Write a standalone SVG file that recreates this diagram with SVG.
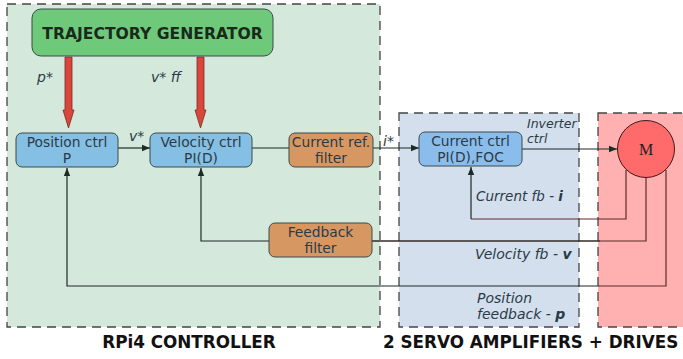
<svg xmlns="http://www.w3.org/2000/svg" width="683" height="359" viewBox="0 0 683 359">
<style>
.panel{stroke:#444;stroke-width:1.3;stroke-dasharray:9,6}
.box{stroke:#3a4a4a;stroke-width:1}
.blue{fill:#85bfe3}
.orange{fill:#d69763}
.t{font-family:"DejaVu Sans",Verdana,sans-serif;font-size:13.8px;fill:#2b3b46;text-anchor:middle}
.lbl{font-family:"DejaVu Sans",Verdana,sans-serif;font-size:13.5px;fill:#2b3b46;font-style:italic}
.s13{font-size:12.5px}
.s14{font-size:14px}
.title{font-family:"DejaVu Sans",Verdana,sans-serif;font-size:16.8px;font-weight:bold;fill:#111}
.tg{font-size:15.6px;fill:#1a2a1a}
.line{fill:none;stroke:#1e2a26;stroke-width:1.2}
.fbl{fill:none;stroke:#5e2a2a;stroke-width:1.2}
.big{fill:#d9473c;stroke:#7a2a20;stroke-width:0.8}
</style>
<defs>
<marker id="ah" viewBox="0 0 10 10" refX="10" refY="5" markerWidth="8" markerHeight="8" markerUnits="userSpaceOnUse" orient="auto">
<path d="M0,1 L10,5 L0,9 z" fill="#1e2a26"/>
</marker>
</defs>
<rect width="683" height="359" fill="#fff"/>
<g id="panel-rpi">
<rect class="panel" x="7" y="4" width="373" height="323" fill="#d5e8dc"/>
</g>
<g id="panel-servo">
<rect class="panel" x="399" y="113" width="180" height="214" fill="#d3dfed"/>
</g>
<g id="panel-drive">
<rect class="panel" x="598" y="113" width="90" height="214" fill="#ffb0b0"/>
</g>
<g id="connectors">
<path class="line" d="M118,148 H150" marker-end="url(#ah)"/>
<path class="line" d="M252,148 H289"/>
<path class="line" d="M373,148 H419" marker-end="url(#ah)"/>
<path class="line" d="M522,149 H617" marker-end="url(#ah)"/>
<path class="fbl" d="M626,170 V219 H471"/>
<path class="line" d="M471,219 V167" marker-end="url(#ah)"/>
<path class="fbl" d="M646,178 V241 H372"/>
<path class="line" d="M269,241 H201 V168" marker-end="url(#ah)"/>
<path class="line" d="M372,241 H600"/>
<path class="fbl" d="M666,170 V286 H600"/>
<path class="line" d="M600,286 H67 V168" marker-end="url(#ah)"/>
<path class="big" d="M65,57 H72 V110 H74 L68.5,128 L63,110 H65 Z"/>
<path class="big" d="M197,57 H204 V110 H206 L200.5,128 L195,110 H197 Z"/>
<text class="lbl s14" x="37" y="82">p*</text>
<text class="lbl s14" x="151" y="82">v* ff</text>
<text class="lbl s14" x="129" y="141">v*</text>
<text class="lbl s14" x="383" y="146">i*</text>
<text class="lbl s13" x="527" y="128">Inverter</text>
<text class="lbl s13" x="527" y="143">ctrl</text>
<text class="lbl" x="476" y="201">Current fb - <tspan font-weight="bold">i</tspan></text>
<text class="lbl s14" x="475" y="259">Velocity fb - <tspan font-weight="bold">v</tspan></text>
<text class="lbl s14" x="477" y="303">Position</text>
<text class="lbl s14" x="477" y="319">feedback - <tspan font-weight="bold">p</tspan></text>
</g>
<g id="traj">
<rect class="box" x="32" y="9" width="241" height="47" rx="9" fill="#6fc97a"/>
<text class="title tg" x="152.5" y="38.5" text-anchor="middle">TRAJECTORY GENERATOR</text>
</g>
<g id="pos-ctrl">
<rect class="box blue" x="16" y="133" width="102" height="34" rx="6"/>
<text class="t" x="67" y="147">Position ctrl</text>
<text class="t" x="67" y="163">P</text>
</g>
<g id="vel-ctrl">
<rect class="box blue" x="150" y="133" width="102" height="34" rx="6"/>
<text class="t" x="201" y="147">Velocity ctrl</text>
<text class="t" x="201" y="163">PI(D)</text>
</g>
<g id="cur-ref">
<rect class="box orange" x="289" y="133" width="84" height="34" rx="6"/>
<text class="t" x="331" y="147">Current ref.</text>
<text class="t" x="331" y="163">filter</text>
</g>
<g id="fb-filter">
<rect class="box orange" x="269" y="223" width="103" height="34" rx="6"/>
<text class="t" x="320.5" y="237">Feedback</text>
<text class="t" x="320.5" y="253">filter</text>
</g>
<g id="cur-ctrl">
<rect class="box" x="419" y="132" width="103" height="34" rx="6" fill="#8bbdec"/>
<text class="t" x="470.5" y="146">Current ctrl</text>
<text class="t" x="470.5" y="162">PI(D),FOC</text>
</g>
<g id="motor">
<circle cx="646" cy="149" r="28.5" fill="#ff6b6b" stroke="#3a1a1a" stroke-width="1"/>
<text x="646" y="155" text-anchor="middle" font-family="'Liberation Serif',serif" font-size="16" fill="#222">M</text>
</g>
<g id="titles">
<text class="title" x="189" y="348" text-anchor="middle">RPi4 CONTROLLER</text>
<text class="title" x="383" y="348">2 SERVO AMPLIFIERS + DRIVES</text>
</g>
</svg>
